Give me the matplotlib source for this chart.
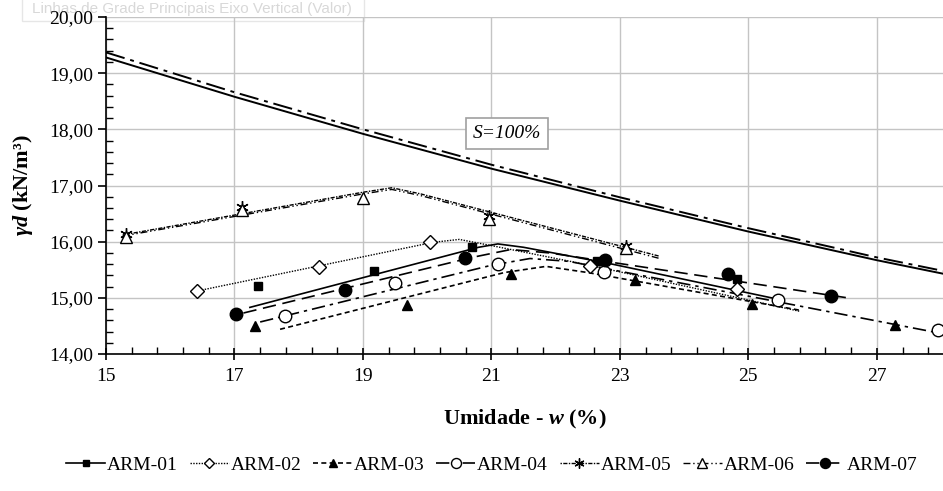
import matplotlib
matplotlib.use("Agg")
import matplotlib.pyplot as plt
from matplotlib.lines import Line2D
from matplotlib.patches import Rectangle
from matplotlib.ticker import MultipleLocator, FuncFormatter

plt.rcParams['font.family'] = ['Liberation Serif', 'DejaVu Serif']
plt.rcParams['mathtext.fontset'] = 'custom'
plt.rcParams['mathtext.rm'] = 'Liberation Serif:bold'
plt.rcParams['mathtext.it'] = 'Liberation Serif:italic:bold'
plt.rcParams['mathtext.bf'] = 'Liberation Serif:bold'

# measured points (w %, gamma_d kN/m3)
w01 = [17.36, 19.17, 20.69, 22.64, 24.83]
gd01 = [15.21, 15.47, 15.91, 15.65, 15.33]
w02 = [16.41, 18.32, 20.04, 22.54, 24.83]
gd02 = [15.12, 15.55, 15.99, 15.56, 15.15]
w03 = [17.32, 19.68, 21.30, 23.23, 25.06, 27.28]
gd03 = [14.50, 14.87, 15.42, 15.31, 14.89, 14.52]
w04 = [17.78, 19.50, 21.11, 22.75, 25.46, 27.95]
gd04 = [14.68, 15.27, 15.61, 15.46, 14.96, 14.43]
w05 = [15.31, 17.11, 20.97, 23.10]
gd05 = [16.14, 16.62, 16.45, 15.93]
w06 = [15.31, 17.11, 19.00, 20.97, 23.10]
gd06 = [16.08, 16.57, 16.77, 16.41, 15.89]
w07 = [17.02, 18.72, 20.59, 22.77, 24.69, 26.28]
gd07 = [14.72, 15.14, 15.71, 15.68, 15.42, 15.04]

# fitted compaction curves
cw01 = [17.24, 20.8, 21.1, 21.5, 22.84, 25.4]
cg01 = [14.83, 15.90, 15.96, 15.90, 15.61, 14.99]
cw02 = [16.41, 20.1, 20.5, 21.0, 22.53, 25.8]
cg02 = [15.12, 15.99, 16.04, 15.93, 15.58, 14.76]
cw03 = [17.71, 21.2, 21.85, 22.5, 25.8]
cg03 = [14.44, 15.45, 15.56, 15.45, 14.78]
cw04 = [17.40, 21.0, 21.6, 22.2, 28.03]
cg04 = [14.57, 15.58, 15.70, 15.65, 14.36]
cw05 = [15.26, 19.0, 19.45, 19.9, 23.62]
cg05 = [16.12, 16.88, 16.96, 16.85, 15.74]
cw06 = [15.26, 19.0, 19.45, 19.9, 23.62]
cg06 = [16.10, 16.85, 16.93, 16.82, 15.70]
cw07 = [17.14, 20.7, 21.3, 21.9, 26.6]
cg07 = [14.73, 15.72, 15.86, 15.80, 14.99]

# saturation lines S=100%
w_sat = [15, 17, 19, 21, 23, 25, 27, 28.03]
gd_sat1 = [19.28, 18.58, 17.92, 17.30, 16.73, 16.18, 15.67, 15.43]
gd_sat2 = [19.37, 18.66, 18.00, 17.37, 16.79, 16.24, 15.72, 15.48]

labels = ['ARM-01', 'ARM-02', 'ARM-03', 'ARM-04', 'ARM-05', 'ARM-06', 'ARM-07']

fig = plt.figure(figsize=(9.43, 4.91), dpi=100)
ax = fig.add_axes([106/943, 137/491, 837/943, 337/491])
ax.patch.set_visible(False)

# faded excel tooltip at the top
fig.patches.append(Rectangle((22/943, 470/491), 342/943, 25/491, transform=fig.transFigure,
                             facecolor='white', edgecolor='#e6e6e6', lw=1, zorder=-2))
fig.text(32/943, 478/491, 'Linhas de Grade Principais Eixo Vertical (Valor)', color='#d8d8d8',
         fontsize=11, family=['Liberation Sans'], zorder=-1)

ax.plot(w_sat, gd_sat1, color='black', lw=1.4, ls='-')
ax.plot(w_sat, gd_sat2, color='black', lw=1.4, ls=(0, (10, 3, 2, 3)))

styles = [
    ('-', 's', 'black', 6),
    ((0, (1, 1)), 'D', 'white', 7),
    ((0, (3, 2)), '^', 'black', 7.5),
    ((0, (8, 3, 2, 3)), 'o', 'white', 9),
    ((0, (1, 1, 3, 1)), (6, 2, 0), 'none', 9),
    ((0, (5, 2, 1, 2, 1, 2)), '^', 'white', 9),
    ((0, (8, 4)), 'o', 'black', 9),
]
pts = [(w01, gd01), (w02, gd02), (w03, gd03), (w04, gd04), (w05, gd05), (w06, gd06), (w07, gd07)]
curves = [(cw01, cg01), (cw02, cg02), (cw03, cg03), (cw04, cg04), (cw05, cg05), (cw06, cg06), (cw07, cg07)]

handles = []
for (ls, mk, fc, ms), (pw, pg), (cw, cg), lab in zip(styles, pts, curves, labels):
    lw = 1.2 if ls in ['-', (0, (8, 4)), (0, (3, 2)), (0, (8, 3, 2, 3))] else 1.0
    ax.plot(cw, cg, color='black', lw=lw, ls=ls, zorder=3)
    ax.plot(pw, pg, ls='none', marker=mk, ms=ms, mfc=fc, mec='black', mew=1.0, zorder=4)
    handles.append(Line2D([], [], color='black', lw=lw, ls=ls, marker=mk, ms=ms * 0.8,
                          mfc=fc, mec='black', mew=1.0))

ax.text(21.24, 17.93, 'S=100%', style='italic', fontsize=14, ha='center', va='center',
        bbox=dict(boxstyle='square,pad=0.35', fc='white', ec='#a0a0a0', lw=1.2), zorder=5)

ax.set_xlim(15, 28.03)
ax.set_ylim(14, 20)
ax.xaxis.set_major_locator(MultipleLocator(2, offset=1))
ax.xaxis.set_minor_locator(MultipleLocator(0.4, offset=0.2))
ax.yaxis.set_major_locator(MultipleLocator(1))
ax.yaxis.set_minor_locator(MultipleLocator(0.2))
ax.yaxis.set_major_formatter(FuncFormatter(lambda v, p: f'{v:.2f}'.replace('.', ',')))
ax.grid(True, which='major', color='#c4c4c4', lw=1)
ax.set_axisbelow(True)
for s in ['top', 'right']:
    ax.spines[s].set_visible(False)
for s in ['left', 'bottom']:
    ax.spines[s].set_linewidth(1.2)
ax.tick_params(axis='x', which='major', direction='inout', length=8, width=1.2, labelsize=14, pad=6)
ax.tick_params(axis='x', which='minor', direction='in', length=5, width=1)
ax.tick_params(axis='y', which='major', direction='out', length=6, width=1.2, labelsize=14)
ax.tick_params(axis='y', which='minor', direction='in', length=5, width=1)

ax.set_xlabel(r'Umidade - $w$ (%)', fontsize=16, fontweight='bold')
ax.xaxis.set_label_coords(0.5, -0.16)
ax.set_ylabel(r'$\gamma d$ (kN/m³)', fontsize=16, fontweight='bold')
ax.yaxis.set_label_coords(-0.085, 0.5)

fig.legend(handles=handles, labels=labels, loc='center', bbox_to_anchor=(492/943, 1 - 465/491),
           ncol=7, frameon=False, fontsize=14, handlelength=2.0, handletextpad=0.1,
           columnspacing=0.6, numpoints=1)

fig.savefig('out.png', dpi=100)
